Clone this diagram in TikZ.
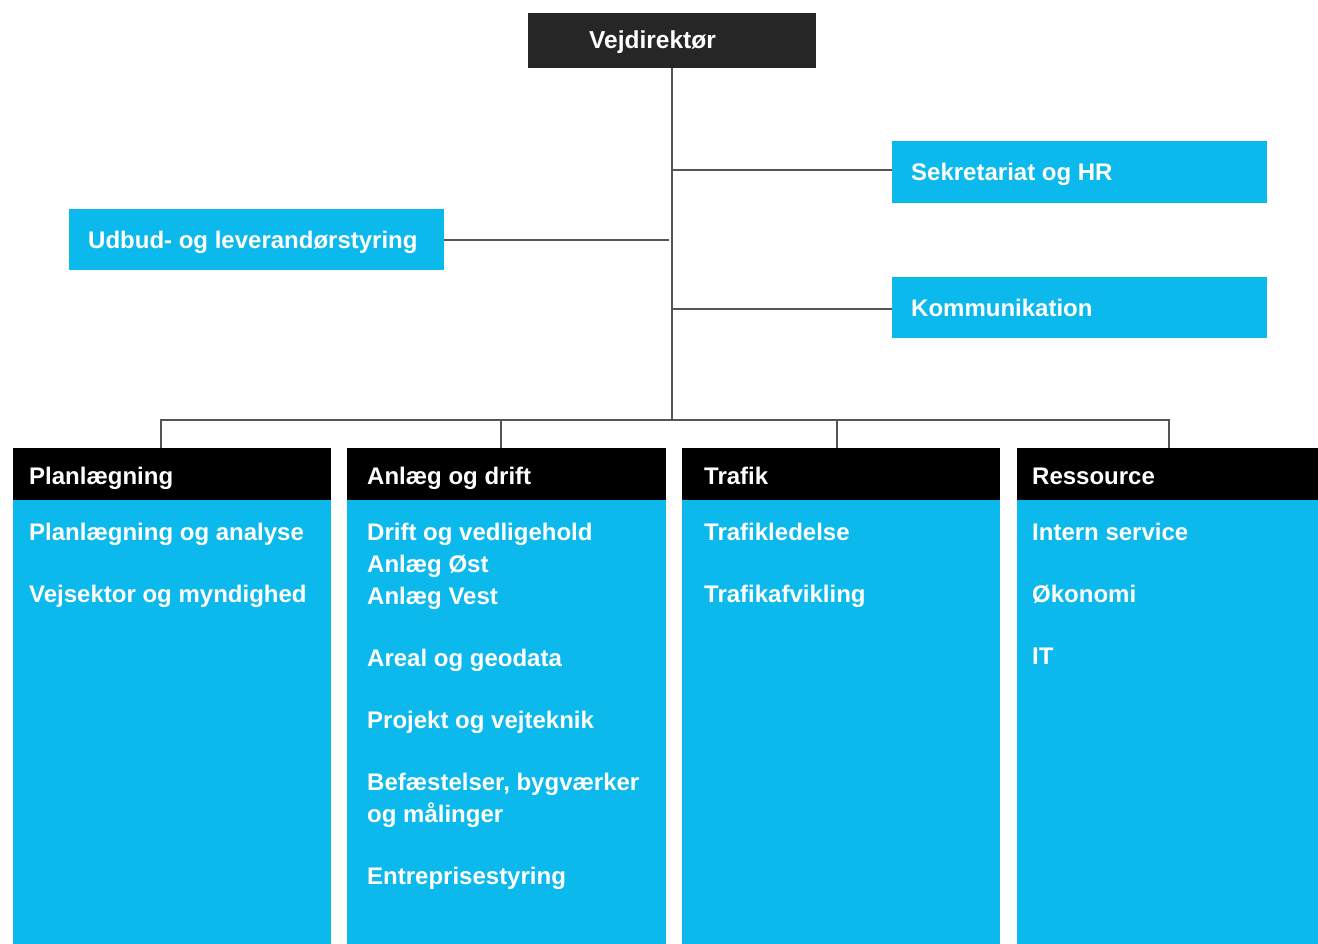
\documentclass[tikz,border=0pt]{standalone}
\usepackage{fontspec}
\setmainfont{Liberation Sans}
\definecolor{vdblue}{RGB}{12,185,236}
\definecolor{vddark}{RGB}{38,38,38}
\definecolor{vdline}{RGB}{85,85,85}
\tikzset{
  box/.style={draw=none, inner sep=0pt, outer sep=0pt},
  topbox/.style={box, fill=vddark},
  sidebox/.style={box, fill=vdblue},
  headbox/.style={box, fill=black},
  bodybox/.style={box, fill=vdblue},
  lbl/.style={anchor=base west, inner sep=0pt, text=white, font=\fontsize{24}{28}\selectfont\bfseries},
  conn/.style={draw=vdline, line width=1.4pt},
}
\begin{document}
\begin{tikzpicture}[x=1pt,y=-1pt]
\useasboundingbox (0,0) rectangle (1318,944);
% top
\node[topbox, minimum width=288pt, minimum height=55pt] (vd) at (672,40.5) {};
\node[lbl, anchor=base, font=\fontsize{24.5}{28}\selectfont\bfseries] (vdt) at (652.5,48.5) {Vejdirektør};
% side boxes
\node[sidebox, minimum width=375pt, minimum height=62pt] (sek) at (1079.5,172) {};
\node[lbl] (sekt) at (911,180.5) {Sekretariat og HR};
\node[sidebox, minimum width=375pt, minimum height=61pt] (udb) at (256.5,239.5) {};
\node[lbl] (udbt) at (88,248.5) {Udbud- og leverandørstyring};
\node[sidebox, minimum width=375pt, minimum height=61pt] (kom) at (1079.5,307.5) {};
\node[lbl] (komt) at (911,316.5) {Kommunikation};
% columns
\foreach \n/\xa/\xb in {1/13/331, 2/347/666, 3/682/1000, 4/1017/1318}{
  \node[headbox, minimum width={\xb-\xa}, minimum height=52pt] (h\n) at ({(\xa+\xb)/2},474) {};
  \node[bodybox, minimum width={\xb-\xa}, minimum height=444pt] (b\n) at ({(\xa+\xb)/2},722) {};
}
% headers
\node[lbl] (h1t) at (29,484.5) {Planlægning};
\node[lbl] (h2t) at (367,484.5) {Anlæg og drift};
\node[lbl] (h3t) at (704,484.5) {Trafik};
\node[lbl] (h4t) at (1032,484.5) {Ressource};
% column 1
\node[lbl] (c1a) at (29,540.5) {Planlægning og analyse};
\node[lbl] (c1b) at (29,602.5) {Vejsektor og myndighed};
% column 2
\node[lbl] (c2a) at (367,540.5) {Drift og vedligehold};
\node[lbl] (c2b) at (367,572.5) {Anlæg Øst};
\node[lbl] (c2c) at (367,604.5) {Anlæg Vest};
\node[lbl] (c2d) at (367,666.5) {Areal og geodata};
\node[lbl] (c2e) at (367,728.5) {Projekt og vejteknik};
\node[lbl] (c2f) at (367,790.5) {Befæstelser, bygværker};
\node[lbl] (c2g) at (367,822.5) {og målinger};
\node[lbl] (c2h) at (367,884.5) {Entreprisestyring};
% column 3
\node[lbl] (c3a) at (704,540.5) {Trafikledelse};
\node[lbl] (c3b) at (704,602.5) {Trafikafvikling};
% column 4
\node[lbl] (c4a) at (1032,540.5) {Intern service};
\node[lbl] (c4b) at (1032,602.5) {Økonomi};
\node[lbl] (c4c) at (1032,664.5) {IT};
% connectors
\coordinate (bus) at (672,420);
\coordinate (sekj) at ([yshift=2pt]sek.west);
\coordinate (komj) at ([yshift=-1.5pt]kom.west);
\coordinate (udbj) at ([yshift=-0.5pt]udb.east);
\draw[conn] (vd.south) -- (bus);
\draw[conn] (vd.south |- sekj) -- (sekj);
\draw[conn] (vd.south |- komj) -- (komj);
\draw[conn] ([xshift=-3pt]vd.south |- udbj) -- (udbj);
\draw[conn] (bus) -| ([xshift=-11pt]h1.north);
\draw[conn] (bus) -| ([xshift=-5.5pt]h2.north);
\draw[conn] (bus) -| ([xshift=-4pt]h3.north);
\draw[conn] (bus) -| ([xshift=1.5pt]h4.north);
\end{tikzpicture}
\end{document}
